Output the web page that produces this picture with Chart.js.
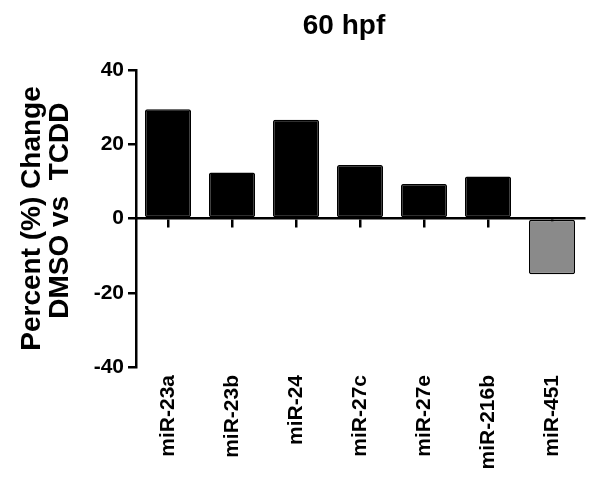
<!DOCTYPE html>
<html>
<head>
<meta charset="utf-8">
<script src="https://cdn.jsdelivr.net/npm/chart.js@4"></script>
<style>
  html, body { margin: 0; padding: 0; background: #fff; }
  #chart { display: block; }
</style>
</head>
<body>
<canvas id="chart" width="600" height="478"></canvas>
<script>
// ── Data ────────────────────────────────────────────────
const CATEGORIES = ["miR-23a", "miR-23b", "miR-24", "miR-27c", "miR-27e", "miR-216b", "miR-451"];
const PERCENT_CHANGE = [29.4, 12.4, 26.6, 14.4, 9.3, 11.3, -15.0];
const Y_TICKS = [-40, -20, 0, 20, 40];
const BAR_COLORS = ["#000", "#000", "#000", "#000", "#000", "#000", "#8a8a8a"];

const FONT = "'Liberation Sans', Arial, sans-serif";

// title drawn over the chart area, slightly left of its centre
const titlePlugin = {
  id: "hpfTitle",
  afterDraw(chart) {
    const { ctx, chartArea } = chart;
    ctx.save();
    ctx.font = "bold 28px " + FONT;
    ctx.fillStyle = "#000";
    ctx.textAlign = "center";
    ctx.textBaseline = "alphabetic";
    ctx.fillText("60 hpf", (chartArea.left + chartArea.right) / 2 - 16, 34);
    ctx.restore();
  },
};

new Chart(document.getElementById("chart"), {
  type: "bar",
  data: {
    labels: CATEGORIES,
    datasets: [{
      data: PERCENT_CHANGE,
      backgroundColor: BAR_COLORS,
      borderColor: "#000",
      borderWidth: 1.5,
      borderRadius: 2,
      borderSkipped: false,
      barPercentage: 0.72,
      categoryPercentage: 1,
    }],
  },
  options: {
    responsive: false,
    animation: false,
    layout: { padding: { top: 70, right: 16, left: 0, bottom: 0 } },
    plugins: {
      legend: { display: false },
      tooltip: { enabled: false },
      title: { display: false },
    },
    scales: {
      x: {
        grid: { display: false, drawTicks: false },
        border: { display: false },
        ticks: {
          color: "#000",
          font: { family: FONT, size: 21, weight: "bold" },
          minRotation: 90,
          maxRotation: 90,
          padding: 8,
        },
        afterFit(scale) { scale.height = 111; },
      },
      // zero line with its tick marks
      x2: {
        type: "category",
        axis: "x",
        position: { y: 0 },
        offset: true,
        grid: { offset: false, drawOnChartArea: false, drawTicks: true, tickLength: 8, color: "#000", lineWidth: 2.5 },
        border: { display: true, color: "#000", width: 2.5 },
        ticks: { display: false },
      },
      y: {
        min: Y_TICKS[0],
        max: Y_TICKS[Y_TICKS.length - 1],
        afterBuildTicks(scale) { scale.ticks = Y_TICKS.map((v) => ({ value: v })); },
        grid: { drawOnChartArea: false, drawTicks: true, tickLength: 8, color: "#000", lineWidth: 2.5 },
        border: { display: true, color: "#000", width: 2.5 },
        ticks: {
          color: "#000",
          font: { family: FONT, size: 21, weight: "bold" },
          padding: 4,
        },
        title: {
          display: true,
          text: ["Percent (%) Change", "  DMSO vs  TCDD"],
          color: "#000",
          font: { family: FONT, size: 28, weight: "bold", lineHeight: 1.0 },
          padding: { top: 18, bottom: 0 },
        },
        afterFit(scale) { scale.width = 136; },
      },
    },
  },
  plugins: [titlePlugin],
});
</script>
</body>
</html>
